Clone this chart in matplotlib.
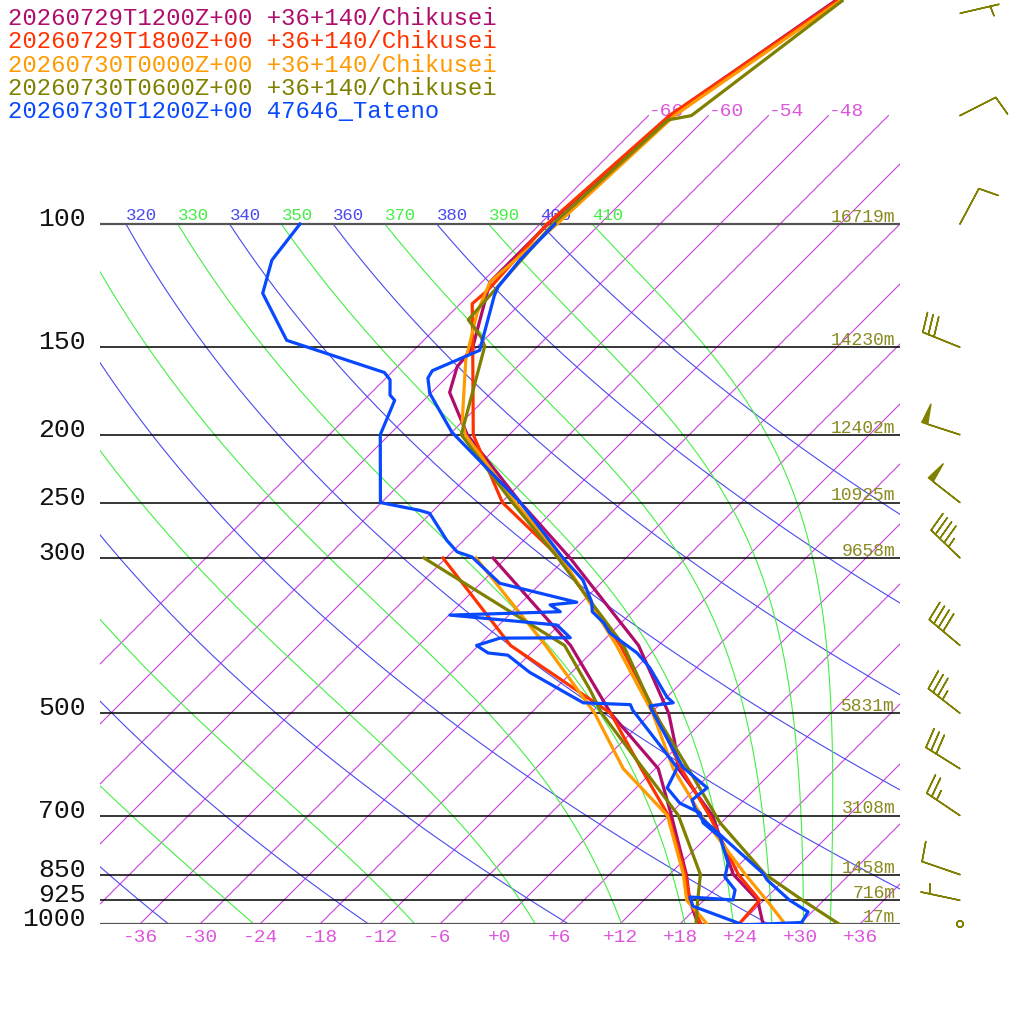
import numpy as np
import matplotlib
matplotlib.use('Agg')
import matplotlib.pyplot as plt

plt.rcParams['font.family'] = ['Liberation Mono', 'DejaVu Sans Mono']

# skew: 10 px per degC, 304 px per ln(p) unit -> 30.4 degC per ln unit
SKEW = 30.4
P_TOP = 1000 * np.exp(-924 / 304)

# legend lines
run_labels = ['20260729T1200Z+00 +36+140/Chikusei',
              '20260729T1800Z+00 +36+140/Chikusei',
              '20260730T0000Z+00 +36+140/Chikusei',
              '20260730T0600Z+00 +36+140/Chikusei',
              '20260730T1200Z+00 47646_Tateno']
run_colors = ['#b00c6c', '#ff3300', '#ff9a00', '#808000', '#0848ff']

# temperature profiles (hPa, degC)
p_t1 = [1000, 925, 850, 700, 600, 550, 500, 400, 300, 250, 200, 174, 160, 150, 121, 100, 70, 48]
t_t1 = [26.3, 23.4, 18.4, 10.4, 2.3, -0.7, -4.2, -14.0, -29.6, -40.1, -52.2, -58.2, -60.0, -60.4, -65.2, -65.2, -63.8, -58.8]
p_t2 = [1000, 925, 850, 700, 600, 500, 400, 300, 250, 200, 150, 130, 124, 100, 70, 48]
t_t2 = [23.9, 23.6, 18.9, 10.1, 2.6, -5.5, -15.8, -30.6, -41.9, -51.6, -60.4, -64.8, -64.6, -65.3, -63.9, -58.6]
p_t3 = [1000, 925, 850, 700, 600, 500, 400, 300, 250, 200, 191, 156, 148, 134, 121, 100, 70, 48]
t_t3 = [28.5, 24.3, 19.6, 9.3, 1.8, -5.8, -16.2, -30.4, -40.6, -52.4, -54.1, -59.9, -61.1, -63.4, -65.2, -64.3, -63.4, -58.3]
p_t4 = [1000, 925, 850, 717, 600, 500, 400, 300, 250, 200, 149.5, 145, 137, 125, 100, 71, 70, 48]
t_t4 = [33.9, 27.9, 21.6, 11.9, 3.3, -5.6, -15.5, -30.8, -40.9, -52.8, -59.3, -60.6, -63.6, -63.9, -64.7, -63.6, -61.7, -58.1]
p_t5 = [1003, 995, 961, 925, 865, 846, 703, 683, 665, 639, 597, 495, 488, 483, 474, 430, 410, 384, 371,
        358, 347, 322.6, 300, 250, 198.3, 174.5, 166, 162, 151.5, 126.6, 123, 112.6, 100]
t_t5 = [24.6, 30.0, 29.6, 26.6, 22.3, 21.2, 9.3, 7.9, 6.8, 7.1, 2.6, -6.2, -6.8, -4.8, -6.0, -10.7, -13.4, -18.1, -19.8,
        -22.0, -23.0, -26.1, -30.3, -40.1, -54.0, -60.1, -61.8, -62.1, -59.4, -63.4, -63.9, -64.4, -64.5]

# dew point profiles
p_d1 = [1000, 925, 850, 700, 600, 500, 400, 300]
t_d1 = [19.8, 16.6, 13.7, 6.3, 0.3, -10.0, -20.8, -37.3]
p_d2 = [1000, 925, 850, 700, 600, 500, 400, 300]
t_d2 = [20.1, 16.6, 13.6, 6.0, -1.4, -10.0, -26.8, -42.3]
p_d3 = [1000, 975, 925, 850, 700, 600, 500, 400, 300]
t_d3 = [20.7, 19.3, 16.3, 13.4, 5.9, -3.2, -11.6, -23.3, -39.0]
p_d4 = [1000, 925, 850, 700, 600, 500, 463, 400, 300]
t_d4 = [19.6, 17.4, 15.1, 7.0, -1.2, -10.9, -14.4, -21.4, -44.2]
p_d5 = [1003, 993, 943, 915, 924, 894, 857, 818, 751, 717, 694, 672, 639, 598, 495, 486, 483, 437, 413, 410,
        400, 390.5, 390, 374, 365, 362, 358, 350, 347, 326, 299, 294, 283, 259, 256.5, 250, 200, 178.6,
        175.5, 167, 163, 146.6, 125.6, 112.6, 100]
t_d5 = [24.4, 23.3, 17.5, 16.3, 20.9, 20.1, 17.8, 16.7, 13.3, 10.2, 8.9, 5.9, 3.1, 2.1, -8.1, -8.9, -13.8, -22.2, -26.1, -28.3,
        -30.2, -28.6, -21.6, -24.2, -32.9, -35.9, -25.2, -26.9, -24.5, -34.1, -39.5, -41.5, -43.7, -48.1, -49.4, -54.1, -60.9, -62.9,
        -63.9, -65.4, -66.7, -79.7, -86.8, -89.2, -90.0]

# standard levels, heights
levels = [100, 150, 200, 250, 300, 500, 700, 850, 925, 1000]
heights = ['16719m', '14230m', '12402m', '10925m', '9658m', '5831m', '3108m', '1458m', '716m', '17m']

# wind (olive run)
barb_p = [1000, 925, 850, 700, 600, 500, 400, 300, 250, 200, 150, 100, 70, 50]
barb_dir = [0, 282, 289, 304, 302, 308, 310, 314, 308, 288, 292, 28, 63, 77]
barb_spd = [0, 5, 10, 25, 30, 35, 40, 45, 50, 50, 30, 10, 10, 5]

ISO_C = '#cc40e0'
ISO_TXT = '#dd55dd'
DRY_C = '#4a4aee'
WET_C = '#44ee44'
OLIVE = '#808000'


def skx(t, p):
    return np.asarray(t, float) + SKEW * np.log(1000.0 / np.asarray(p, float))


def es(tc):
    return 6.112 * np.exp(17.67 * tc / (tc + 243.5))


def rsat(tk, p):
    e = es(tk - 273.15)
    return 0.622 * e / (p - e)


def dtdp(tk, p):
    r = rsat(tk, p)
    Rd, Lv, cp, eps = 287.04, 2.501e6, 1005.7, 0.622
    return (Rd * tk + Lv * r) / (cp + Lv * Lv * r * eps / (Rd * tk * tk)) / p


def moist_line(te, pp):
    # pp runs from 100 hPa down to 1000 hPa; start where theta ~ te
    tk = te * (pp[0] / 1000.0) ** 0.2857
    out = [tk]
    for i in range(len(pp) - 1):
        p0, h = pp[i], pp[i + 1] - pp[i]
        k1 = dtdp(tk, p0)
        k2 = dtdp(tk + 0.5 * h * k1, p0 + 0.5 * h)
        k3 = dtdp(tk + 0.5 * h * k2, p0 + 0.5 * h)
        k4 = dtdp(tk + h * k3, p0 + h)
        tk = tk + h / 6 * (k1 + 2 * k2 + 2 * k3 + k4)
        out.append(tk)
    return np.array(out) - 273.15


fig = plt.figure(figsize=(10.24, 10.24), dpi=100)
ax = fig.add_axes([100 / 1024, 100 / 1024, 800 / 1024, 924 / 1024])
ax.set_yscale('log')
ax.set_ylim(1000, P_TOP)
ax.set_xlim(-40, 40)
ax.axis('off')

# isotherms
pp = np.geomspace(1000, 70, 60)
for t in range(-66, 37, 6):
    ax.plot(skx(t, pp), pp, color=ISO_C, lw=0.8, zorder=1)
    xt = skx(t, 70)
    if xt < 36:
        ax.text(xt, 70, '%+d' % t if t != 0 else '+0', color=ISO_TXT, fontsize=14,
                ha='left', va='baseline')
for t in range(-36, 37, 6):
    lab = '%+d' % t if t != 0 else '+0'
    ax.annotate(lab, (t, 1000), xytext=(0, -9.5), textcoords='offset points',
                ha='center', va='center', color=ISO_TXT, fontsize=14, annotation_clip=False)

# dry adiabats
pp = np.geomspace(1000, 100, 200)
for th in range(240, 401, 20):
    tt = th * (pp / 1000) ** 0.2857 - 273.15
    ax.plot(skx(tt, pp), pp, color=DRY_C, lw=0.8, zorder=1)
    ax.annotate(str(th), (skx(tt[-1], 100), 100), xytext=(0, 3), textcoords='offset points',
                ha='left', va='baseline', color=DRY_C, fontsize=12.5, clip_on=True)

# moist adiabats
pp = np.linspace(100, 1000, 451)
for te in range(250, 411, 20):
    tt = moist_line(te, pp)
    ax.plot(skx(tt, pp), pp, color=WET_C, lw=0.8, zorder=1)
    ax.annotate(str(te), (skx(tt[0], 100), 100), xytext=(0, 3), textcoords='offset points',
                ha='left', va='baseline', color=WET_C, fontsize=12.5, clip_on=True)

# pressure levels
for p, h in zip(levels, heights):
    edge = p in (100, 1000)
    ax.axhline(p, color='#555555' if edge else 'black', lw=1.6 if edge else 1.1, zorder=2)
    ax.annotate(str(p), (0, p), xycoords=('axes fraction', 'data'), xytext=(-10, -1.5),
                textcoords='offset points', ha='right', va='baseline', fontsize=19, color='#111111')
    ax.annotate(h, (1, p), xycoords=('axes fraction', 'data'), xytext=(-3.5, 1.5),
                textcoords='offset points', ha='right', va='baseline', fontsize=13, color='#8a8a20')

# soundings
temps = [(p_t1, t_t1), (p_t2, t_t2), (p_t3, t_t3), (p_t4, t_t4), (p_t5, t_t5)]
dews = [(p_d1, t_d1), (p_d2, t_d2), (p_d3, t_d3), (p_d4, t_d4), (p_d5, t_d5)]
for (pt, tt), (pd, td), c in zip(temps, dews, run_colors):
    ax.plot(skx(tt, pt), pt, color=c, lw=2.3, zorder=3)
    ax.plot(skx(td, pd), pd, color=c, lw=2.3, zorder=3)

# wind barbs
d = np.radians(barb_dir)
s = np.array(barb_spd, float)
u = -s * np.sin(d)
v = -s * np.cos(d)
ax.barbs(np.full(len(barb_p), 46.0), barb_p, u, v, length=7.6, color=OLIVE, linewidth=1.1,
         clip_on=False, sizes=dict(spacing=0.15, height=0.5, width=0.15, emptybarb=0.08))

# legend text
for i, (lab, c) in enumerate(zip(run_labels, run_colors)):
    fig.text(8 / 1024, 1 - (25 + 23.3 * i) / 1024, lab, color=c, fontsize=17.2, va='baseline', ha='left')

fig.savefig('out.png', dpi=100)
